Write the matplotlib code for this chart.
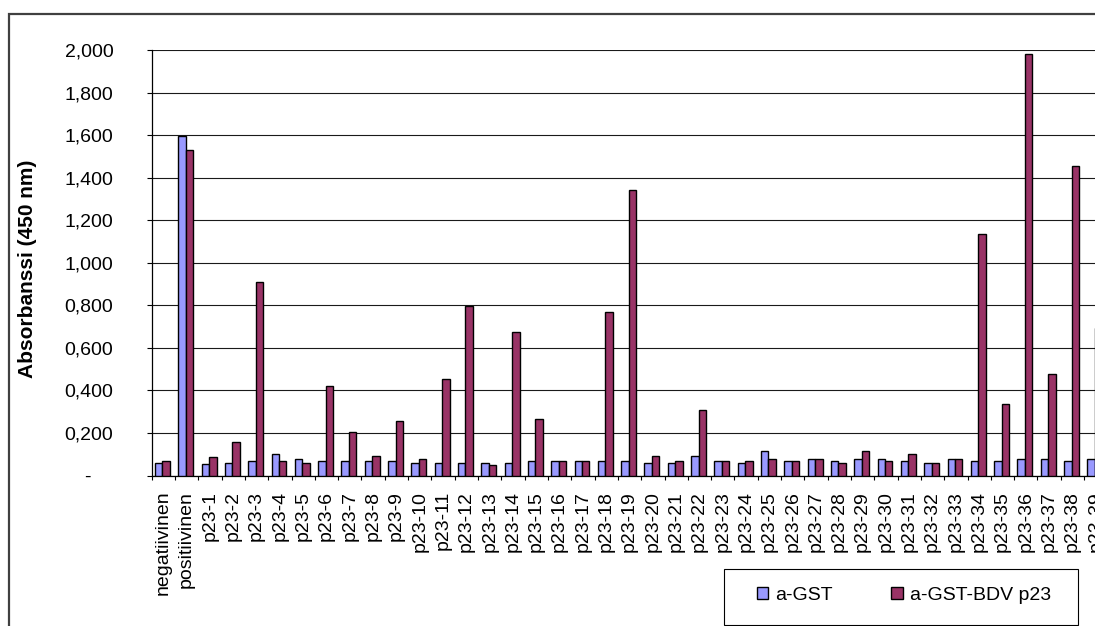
import matplotlib
matplotlib.use("Agg")
import matplotlib.pyplot as plt
from matplotlib.patches import Patch, Rectangle
from matplotlib.ticker import FixedLocator
import numpy as np

plt.rcParams['font.family'] = ['Liberation Sans', 'DejaVu Sans']
plt.rcParams['font.size'] = 14

# ELISA absorbance readings per sample
categories = ['negatiivinen', 'positiivinen'] + ['p23-%d' % i for i in range(1, 40)]
a_gst = [0.060, 1.598, 0.052, 0.060, 0.069, 0.103, 0.077, 0.069, 0.069, 0.069,
         0.069, 0.060, 0.060, 0.060, 0.060, 0.060, 0.069, 0.069, 0.069, 0.069,
         0.069, 0.060, 0.060, 0.094, 0.069, 0.060, 0.113, 0.069, 0.077, 0.069,
         0.077, 0.077, 0.069, 0.060, 0.077, 0.069, 0.069, 0.077, 0.077, 0.069,
         0.077]
a_gst_p23 = [0.069, 1.529, 0.085, 0.157, 0.908, 0.069, 0.060, 0.420, 0.205, 0.094,
             0.257, 0.077, 0.454, 0.796, 0.050, 0.675, 0.265, 0.069, 0.069, 0.769,
             1.344, 0.094, 0.069, 0.307, 0.069, 0.069, 0.077, 0.069, 0.077, 0.060,
             0.113, 0.069, 0.103, 0.060, 0.077, 1.137, 0.334, 1.983, 0.479, 1.453,
             0.694]
series_names = ['a-GST', 'a-GST-BDV p23']
ytick_values = [0.0, 0.2, 0.4, 0.6, 0.8, 1.0, 1.2, 1.4, 1.6, 1.8, 2.0]

blue = '#9999FF'
wine = '#993366'

W, H = 1095, 626
fig = plt.figure(figsize=(W / 100, H / 100), dpi=100)

# outer chart frame (runs off the right and bottom edges)
fig.patches.append(Rectangle((9.3 / W, -0.2), 1.5, 0.2 + (H - 14) / H,
                             transform=fig.transFigure, fill=False,
                             edgecolor='#404040', linewidth=1.6))

n = len(categories)
cat_px = 23.31
ax = fig.add_axes([151.7 / W, 150.5 / H, n * cat_px / W, 425.5 / H])

x = np.arange(n)
bw = 0.32
ax.bar(x - 0.20, a_gst, bw, color=blue, edgecolor='black', linewidth=1.0, zorder=3)
ax.bar(x + 0.12, a_gst_p23, bw, color=wine, edgecolor='black', linewidth=1.0, zorder=3)

ax.set_xlim(-0.5, n - 0.5)
ax.set_ylim(0, 2.0)

ax.set_yticks(ytick_values)
ylabels = [('%.3f' % v).replace('.', ',') for v in ytick_values]
ylabels[0] = '-    '
ax.set_yticklabels(ylabels)
ax.tick_params(axis='y', direction='out', length=3.6, width=0.8, pad=24)
ax.yaxis.grid(True, color='#1a1a1a', linewidth=0.8, zorder=0)

ax.set_xticks(x)
ax.set_xticklabels(categories, rotation=90, va='top')
ax.tick_params(axis='x', which='major', length=0, pad=11)
ax.xaxis.set_minor_locator(FixedLocator(np.arange(n + 1) - 0.5))
ax.tick_params(axis='x', which='minor', direction='out', length=2.9, width=0.8)

for side in ('top', 'right'):
    ax.spines[side].set_visible(False)
ax.spines['left'].set_linewidth(0.9)
ax.spines['bottom'].set_linewidth(0.9)
ax.set_axisbelow(True)

fig.text(27.5 / W, (H - 269) / H, 'Absorbanssi (450 nm)', rotation=90,
         ha='center', va='center', fontsize=15, fontweight='bold')

# legend box
fig.patches.append(Rectangle((724 / W, (H - 625) / H), 354 / W, 56 / H,
                             transform=fig.transFigure, fill=False,
                             edgecolor='black', linewidth=0.8))
handles = [Patch(facecolor=blue, edgecolor='black', linewidth=1.0),
           Patch(facecolor=wine, edgecolor='black', linewidth=1.0)]
fig.legend(handles, series_names, loc='center', bbox_to_anchor=(904 / W, (H - 595) / H),
           ncol=2, frameon=False, handlelength=0.57, handleheight=0.57,
           handletextpad=0.4, columnspacing=3.0, borderpad=0, fontsize=14)

fig.savefig('out.png', dpi=100)
